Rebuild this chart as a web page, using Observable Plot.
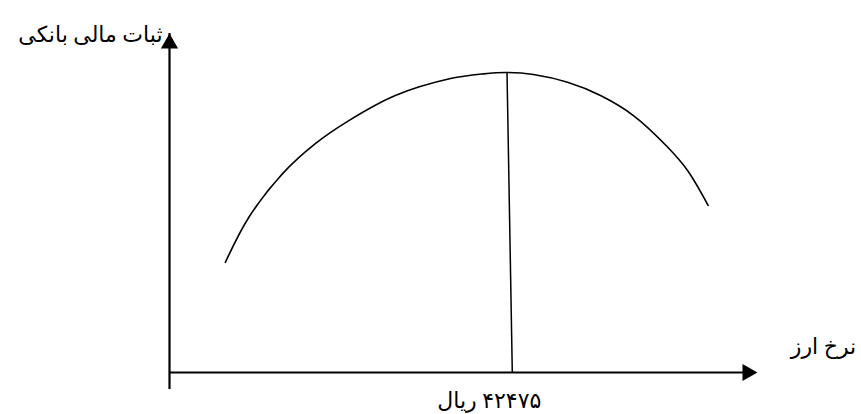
<!DOCTYPE html>
<html>
<head>
<meta charset="utf-8">
<script src="https://cdn.jsdelivr.net/npm/d3@7"></script>
<script src="https://cdn.jsdelivr.net/npm/@observablehq/plot@0.6"></script>
<style>
  html, body { margin: 0; padding: 0; background: #fff; }
  #chart svg { display: block; }
  .rtl text { direction: rtl; }
</style>
</head>
<body>
<div id="chart"></div>
<script>
// Curve: bank financial stability vs exchange rate (schematic, arbitrary units 0–100)
const curveX = [9.5, 13.5, 19.2, 24.8, 30.5, 38.4, 47.8, 53.4, 57.3, 61.9, 67.7, 73.3, 78.9, 84.7, 88.1, 91.6];
const curveY = [32.5, 45.8, 58.6, 67.5, 74.3, 81.7, 86.7, 88.1, 88.5, 87.9, 85.6, 81.7, 75.8, 66.5, 59.6, 49.3];

// Optimal exchange-rate marker line (top at peak, bottom on the x axis)
const markerTop = {x: 57.4, y: 88.6};
const markerBottom = {x: 58.3, y: 0};

// Axis extents
const xAxisRange = [0, 100];
const yAxisRange = [-2.1, 100];

// Texts
const yLabel = "ثبات مالی بانکی";
const xLabel = "نرخ ارز";
const markerLabel = "۴۲۴۷۵ ریال";

const curve = curveX.map((x, i) => ({x, y: curveY[i]}));
const font = "'Times New Roman', 'Liberation Serif', 'DejaVu Sans', serif";

const chart = Plot.plot({
  width: 861,
  height: 414,
  marginLeft: 169,
  marginRight: 104,
  marginTop: 33,
  marginBottom: 42,
  x: {domain: [0, 100], axis: null},
  y: {domain: [0, 100], axis: null},
  style: {background: "#fff", fontFamily: font},
  marks: [
    // y axis
    Plot.ruleX([xAxisRange[0]], {y1: yAxisRange[0], y2: yAxisRange[1], stroke: "#000", strokeWidth: 2.2, insetTop: 10}),
    Plot.dot([{x: xAxisRange[0], y: yAxisRange[1]}], {x: "x", y: "y", symbol: "triangle", r: 6.4, fill: "#000", stroke: "none", dy: 10}),
    // x axis
    Plot.ruleY([0], {x1: xAxisRange[0], x2: xAxisRange[1], stroke: "#000", strokeWidth: 2.2, insetRight: 10}),
    Plot.dot([{x: xAxisRange[1], y: 0}], {x: "x", y: "y", symbol: "triangle", r: 6.4, rotate: 90, fill: "#000", stroke: "none", dx: -10}),
    // curve
    Plot.line(curve, {x: "x", y: "y", curve: "catmull-rom", stroke: "#000", strokeWidth: 1.6}),
    // marker line
    Plot.link([{a: markerTop, b: markerBottom}], {x1: d => d.a.x, y1: d => d.a.y, x2: d => d.b.x, y2: d => d.b.y, stroke: "#000", strokeWidth: 1.5}),
    // labels
    Plot.text([yLabel], {x: xAxisRange[0], y: yAxisRange[1], text: d => d, textAnchor: "end", dx: -7, dy: 1, fontSize: 22, fill: "#000"}),
    Plot.text([xLabel], {x: xAxisRange[1], y: 0, text: d => d, textAnchor: "middle", dx: 66, dy: -26, fontSize: 22, fill: "#000"}),
    Plot.text([markerLabel], {x: markerBottom.x, y: markerBottom.y, text: d => d, textAnchor: "middle", dx: -23, dy: 28, fontSize: 22, fill: "#000", className: "rtl"})
  ]
});
document.getElementById("chart").appendChild(chart);
</script>
</body>
</html>
